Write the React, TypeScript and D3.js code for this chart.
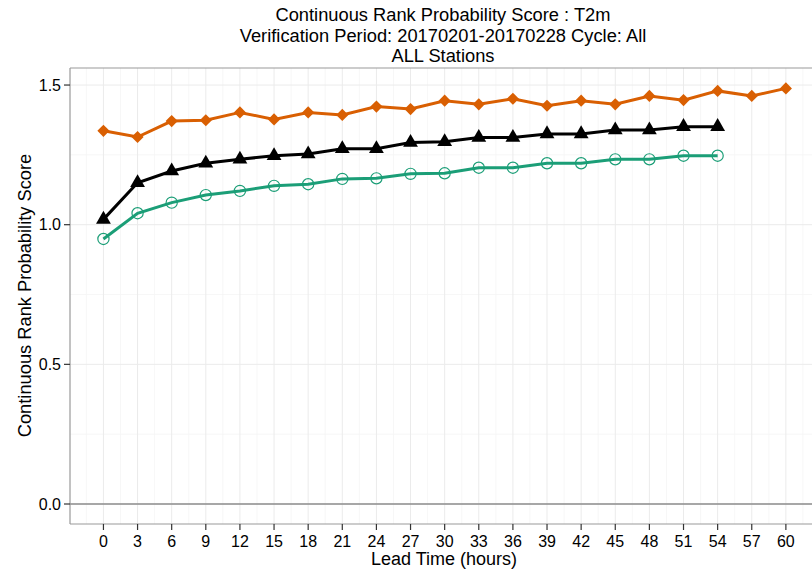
import React from "react";
import * as d3 from "d3";

const leadHours = [0, 3, 6, 9, 12, 15, 18, 21, 24, 27, 30, 33, 36, 39, 42, 45, 48, 51, 54, 57, 60];
const orangeVals = [1.336, 1.314, 1.371, 1.374, 1.402, 1.377, 1.402, 1.393, 1.423, 1.414, 1.444, 1.431, 1.451, 1.426, 1.444, 1.431, 1.461, 1.446, 1.479, 1.461, 1.488];
const blackVals = [1.019, 1.15, 1.192, 1.22, 1.234, 1.247, 1.253, 1.272, 1.272, 1.294, 1.297, 1.312, 1.312, 1.325, 1.325, 1.339, 1.339, 1.351, 1.351];
const greenVals = [0.949, 1.041, 1.079, 1.106, 1.121, 1.139, 1.145, 1.164, 1.166, 1.182, 1.184, 1.204, 1.204, 1.22, 1.22, 1.234, 1.234, 1.247, 1.247];
const yTicks = [0, 0.5, 1.0, 1.5];
const yMinor = [0.25, 0.75, 1.25];
const titleLines = [
  "Continuous Rank Probability Score : T2m",
  "Verification Period: 20170201-20170228 Cycle: All",
  "ALL Stations",
];

const W = 812, H = 571;
const panel = { left: 70, top: 68, right: 820, bottom: 524 };
const FONT = "'Liberation Sans', Arial, Helvetica, sans-serif";

export default function App() {
  const x = d3.scaleLinear().domain([-2.94, 63.0]).range([panel.left, panel.right]);
  const y = d3.scaleLinear().domain([-0.0716, 1.561]).range([panel.bottom, panel.top]);
  const xMinor = d3.range(-1.5, 63, 3);

  const mk = (vals: number[]) => vals.map((v, i) => [leadHours[i], v] as [number, number]);
  const line = d3.line<[number, number]>().x(d => x(d[0])).y(d => y(d[1]));
  const orange = mk(orangeVals), black = mk(blackVals), green = mk(greenVals);
  const tri = d3.symbol().type(d3.symbolTriangle).size(95)();
  const cx = (panel.left + panel.right) / 2;

  return (
    <svg width={W} height={H} style={{ position: "fixed", left: 0, top: 0, background: "#fff" }} fontFamily={FONT}>
      <defs>
        <clipPath id="pc"><rect x={panel.left} y={panel.top} width={panel.right - panel.left} height={panel.bottom - panel.top} /></clipPath>
      </defs>
      <rect x={0} y={0} width={W} height={H} fill="#fff" />
      <g clipPath="url(#pc)">
        {yMinor.map(v => <line key={"ym" + v} x1={panel.left} x2={panel.right} y1={y(v)} y2={y(v)} stroke="#f5f5f5" strokeWidth={0.8} />)}
        {xMinor.map(v => <line key={"xm" + v} x1={x(v)} x2={x(v)} y1={panel.top} y2={panel.bottom} stroke="#f5f5f5" strokeWidth={0.8} />)}
        {yTicks.map(v => <line key={"yg" + v} x1={panel.left} x2={panel.right} y1={y(v)} y2={y(v)} stroke="#ebebeb" strokeWidth={1} />)}
        {leadHours.map(v => <line key={"xg" + v} x1={x(v)} x2={x(v)} y1={panel.top} y2={panel.bottom} stroke="#ebebeb" strokeWidth={1} />)}
        <line x1={panel.left} x2={panel.right} y1={y(0)} y2={y(0)} stroke="#8c8c8c" strokeWidth={1.5} />
        <path d={line(orange) || ""} fill="none" stroke="#D95F02" strokeWidth={3} />
        {orange.map((d, i) => (
          <rect key={"o" + i} x={-4.3} y={-4.3} width={8.6} height={8.6} fill="#D95F02"
            transform={`translate(${x(d[0])},${y(d[1])}) rotate(45)`} />
        ))}
        <path d={line(black) || ""} fill="none" stroke="#000" strokeWidth={3} />
        {black.map((d, i) => (
          <path key={"b" + i} d={tri || ""} fill="#000" transform={`translate(${x(d[0])},${y(d[1])})`} />
        ))}
        <path d={line(green) || ""} fill="none" stroke="#1B9E77" strokeWidth={3} />
        {green.map((d, i) => (
          <circle key={"g" + i} cx={x(d[0])} cy={y(d[1])} r={5.6} fill="none" stroke="#1B9E77" strokeWidth={1.2} />
        ))}
      </g>
      <line x1={panel.left} x2={panel.right} y1={panel.top} y2={panel.top} stroke="#999" strokeWidth={1.2} />
      <line x1={panel.left} x2={panel.right} y1={panel.bottom} y2={panel.bottom} stroke="#999" strokeWidth={1.2} />
      <line x1={panel.left} x2={panel.left} y1={panel.top} y2={panel.bottom} stroke="#999" strokeWidth={1.2} />
      {yTicks.map(v => (
        <g key={"yt" + v}>
          <line x1={panel.left - 6} x2={panel.left} y1={y(v)} y2={y(v)} stroke="#333" strokeWidth={1.2} />
          <text x={panel.left - 9} y={y(v)} dy="0.35em" textAnchor="end" fontSize={16} fill="#000">{d3.format(".1f")(v)}</text>
        </g>
      ))}
      {leadHours.map(v => (
        <g key={"xt" + v}>
          <line x1={x(v)} x2={x(v)} y1={panel.bottom} y2={panel.bottom + 6} stroke="#333" strokeWidth={1.2} />
          <text x={x(v)} y={547} textAnchor="middle" fontSize={16} fill="#000">{v}</text>
        </g>
      ))}
      <text x={cx - 1} y={565} textAnchor="middle" fontSize={18} fill="#000">Lead Time (hours)</text>
      <text transform={`translate(31,295.5) rotate(-90)`} textAnchor="middle" fontSize={18.3} fill="#000">Continuous Rank Probability Score</text>
      {titleLines.map((t, i) => (
        <text key={"t" + i} x={cx - 2} y={21 + i * 20.5} textAnchor="middle" fontSize={18.3} fill="#000">{t}</text>
      ))}
    </svg>
  );
}
